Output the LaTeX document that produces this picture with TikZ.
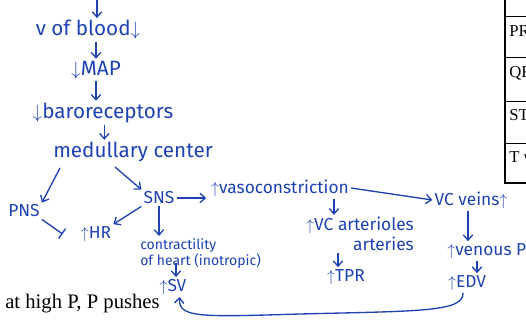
\documentclass[tikz,border=0pt]{standalone}
\usepackage{fontspec}
\setmainfont{Fira Sans}
\newfontfamily\printfont{Liberation Serif}
\usetikzlibrary{arrows.meta}
\definecolor{inkblue}{RGB}{30,66,178}

\begin{document}
\begin{tikzpicture}[x=0.75pt,y=0.75pt,yscale=-1,xscale=1,
  hand/.style={text=inkblue, inner sep=1.5pt, font=\fontsize{13}{15}\selectfont},
  big/.style={hand, font=\fontsize{15.5}{17}\selectfont},
  small/.style={hand, font=\fontsize{10.5}{11}\selectfont},
  arr/.style={draw=inkblue, line width=1pt, -{Straight Barb[length=4pt,width=7pt]}},
  inhib/.style={draw=inkblue, line width=1pt, -{Bar[width=9pt]}},
  printed/.style={inner sep=0pt, font=\printfont\fontsize{12.5}{13}\selectfont}]
\useasboundingbox (0,0) rectangle (526,322);

% table fragment (top right)
\draw [line width=0.8pt] (505,0) -- (505,183) -- (530,183) ;
\foreach \ty in {16,57,101,143} {
  \draw [line width=0.5pt] (505,\ty) -- (530,\ty) ;
}
\node [printed, anchor=west] (rowpr) at (509,31) {PR};
\node [printed, anchor=west] (rowqr) at (509,73) {QR};
\node [printed, anchor=west] (rowst) at (509,115) {ST};
\node [printed, anchor=west] (rowt) at (509,157) {T w};

% Text Nodes
\node [big] (vblood) at (88,30) {v of blood$\downarrow$};
\node [big] (map) at (96,70) {$\downarrow$MAP};
\node [big] (baro) at (103,113) {$\downarrow$baroreceptors};
\node [big] (med) at (133,152) {medullary center};
\node [hand] (pns) at (24,211) {PNS};
\node [hand] (sns) at (159,198) {SNS};
\node [hand] (hr) at (96,234) {$\uparrow$HR};
\node [hand] (vaso) at (280,188) {$\uparrow$vasoconstriction};
\node [small, anchor=north west, align=left] (contr) at (138,236) {contractility\\of heart (inotropic)};
\node [hand] (sv) at (173,287) {$\uparrow$SV};
\node [hand, align=right] (vcart) at (360,234) {$\uparrow$VC arterioles\\arteries};
\node [hand] (tpr) at (346,277) {$\uparrow$TPR};
\node [hand] (veins) at (471,200) {VC veins$\uparrow$};
\node [hand, anchor=west] (venp) at (445,251) {$\uparrow$venous P};
\node [hand] (edv) at (467,283) {$\uparrow$EDV};
\node [printed, anchor=west, font=\printfont\fontsize{15.5}{16}\selectfont] (caption) at (5,304) {at high P, P pushes};
\coordinate (topin) at (97,-2);

% Connectors
\draw [arr] (topin) -- (topin |- vblood.north) ;
\draw [arr] (map.north |- vblood.south) -- (map.north) ;
\draw [arr] (map.south) -- (map.south |- baro.north) ;
\draw [arr] ([xshift=1pt]baro.south) -- ([xshift=1pt]baro.south |- med.north) ;
\draw [arr] (60,168) -- (pns.north east) ;
\draw [arr] (115,167) -- (sns.north west) ;
\draw [arr] (sns.east) -- ([xshift=-2pt]vaso.west |- sns.east) ;
\draw [arr] (sns.south west) -- (hr.north east) ;
\draw [inhib] (pns.south east) -- ([xshift=-12pt]hr.west) ;
\draw [arr] (sns.south) -- (sns.south |- contr.north) ;
\draw [arr] (176,263) -- (sv.north -| 176,0) ;
\draw [arr] (vaso.south -| 334,0) -- (vcart.north -| 334,0) ;
\draw [arr] (vcart.south -| 338,0) -- (tpr.north -| 338,0) ;
\draw [arr] (vaso.east) -- (veins.west) ;
\draw [arr] (veins.south -| 468,0) -- (venp.north -| 468,0) ;
\draw [arr] (venp.south -| 477,0) -- (edv.north -| 477,0) ;
\draw [arr] ([xshift=-3pt]edv.south) .. controls (464,312) and (420,311) .. (300,314) .. controls (200,317) and (178,318) .. ([xshift=5pt]sv.south) ;

\end{tikzpicture}
\end{document}
